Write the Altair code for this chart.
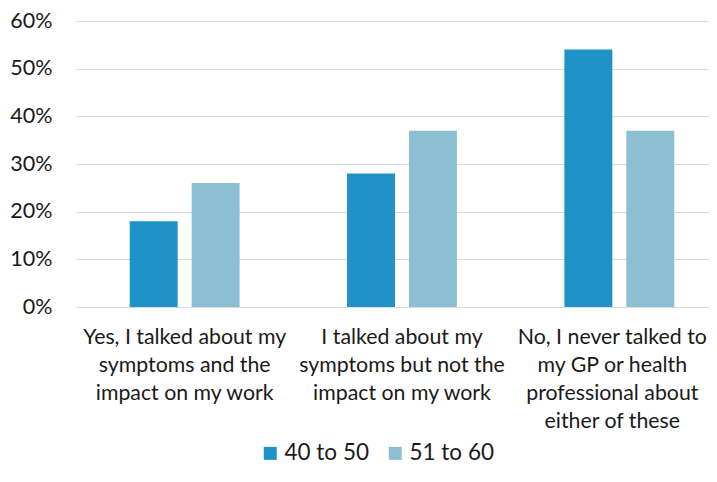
import altair as alt
import pandas as pd

categories = [
    "Yes, I talked about my\nsymptoms and the\nimpact on my work",
    "I talked about my\nsymptoms but not the\nimpact on my work",
    "No, I never talked to\nmy GP or health\nprofessional about\neither of these",
]
series = ["40 to 50", "51 to 60"]
values_40_50 = [0.18, 0.28, 0.54]
values_51_60 = [0.26, 0.37, 0.37]
colors = ["#1F93C8", "#8CBFD3"]
y_ticks = [0, 0.1, 0.2, 0.3, 0.4, 0.5, 0.6]

rows = []
for c, a, b in zip(categories, values_40_50, values_51_60):
    rows.append({"category": c, "group": series[0], "value": a})
    rows.append({"category": c, "group": series[1], "value": b})
df = pd.DataFrame(rows)

FONT = "Lato"
TXT = "#1a1a1a"
FS = 21.3

chart = alt.Chart(df).mark_bar().encode(
    x=alt.X(
        "category:N", sort=categories, title=None,
        scale=alt.Scale(range=[0, 652], paddingInner=0.43, paddingOuter=0.215),
        axis=alt.Axis(labelAngle=0, labelExpr="split(datum.label, '\\n')",
                      domain=False, ticks=False, labelPadding=19,
                      labelOffset={"condition": {"test": "indexof(datum.value, 'No, I never') === 0",
                                                 "value": -7}, "value": 0},
                      labelFontSize=FS, labelLineHeight=28, labelFont=FONT,
                      labelColor=TXT, labelLimit=300, labelBaseline="top"),
    ),
    xOffset=alt.XOffset("group:N", sort=series,
                        scale=alt.Scale(paddingInner=0.2258, paddingOuter=0.1129)),
    y=alt.Y(
        "value:Q", title=None,
        scale=alt.Scale(domain=[0, 0.6], nice=False),
        axis=alt.Axis(values=y_ticks, format=".0%", domain=False, ticks=False,
                      gridColor="#d9d9d9", gridWidth=1.2, labelPadding=24,
                      labelFontSize=21.5, labelFont=FONT, labelColor=TXT),
    ),
    color=alt.Color(
        "group:N", sort=series,
        scale=alt.Scale(domain=series, range=colors),
        legend=alt.Legend(title=None, orient="none", legendX=183, legendY=421,
                          direction="horizontal", symbolType="square",
                          symbolSize=169, symbolStrokeWidth=0,
                          labelFontSize=22.5, labelFont=FONT, labelColor=TXT,
                          columnPadding=15, labelOffset=3),
    ),
).properties(
    width=633, height=286,
    autosize=alt.AutoSizeParams(type="none"),
    padding={"left": 68, "top": 13, "right": 0, "bottom": 163},
).configure_view(stroke=None)

chart.save("out.html", embed_options={"renderer": "svg", "actions": False})
